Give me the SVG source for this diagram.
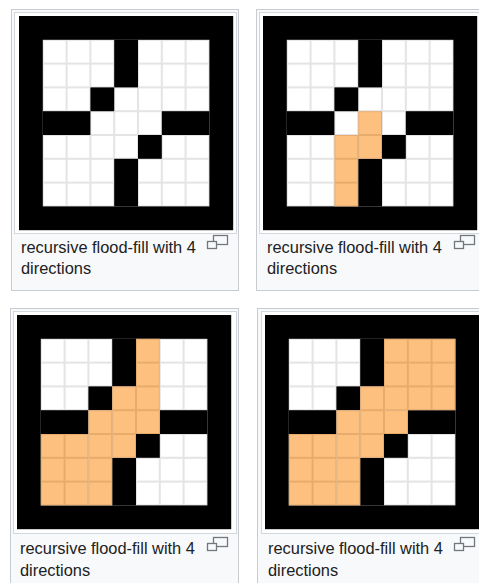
<svg xmlns="http://www.w3.org/2000/svg" width="479" height="583" viewBox="0 0 479 583">
<defs>
<style>
.frame{fill:#f8f9fa;stroke:#c8ccd1;stroke-width:1}
.box{fill:#fff;stroke:#d4d7db;stroke-width:1}
.cap{font-family:"Liberation Sans",Arial,sans-serif;font-size:16.4px;fill:#202122}
.icon{fill:#f8f9fa;stroke:#72777d;stroke-width:1.3}
.blk{fill:#000}
.or{fill:url(#go)}
</style>
<pattern id="gw" width="23.8" height="23.8" patternUnits="userSpaceOnUse"><rect width="23.8" height="23.8" fill="#e4e4e4"/><rect x="1" y="1" width="21.8" height="21.8" fill="#fff"/></pattern>
<pattern id="go" width="23.8" height="23.8" patternUnits="userSpaceOnUse"><rect width="23.8" height="23.8" fill="#e7ab6c"/><rect x="1" y="1" width="21.8" height="21.8" fill="#fec07f"/></pattern>
<g id="base">
<rect class="blk" width="214.2" height="214.2"/>
<rect x="23.8" y="23.8" width="166.6" height="166.6" fill="url(#gw)"/>
<rect class="blk" x="95.2" y="23.8" width="23.8" height="47.6"/>
<rect class="blk" x="71.4" y="71.4" width="23.8" height="23.8"/>
<rect class="blk" x="23.8" y="95.2" width="47.6" height="23.8"/>
<rect class="blk" x="142.8" y="95.2" width="47.6" height="23.8"/>
<rect class="blk" x="119" y="119" width="23.8" height="23.8"/>
<rect class="blk" x="95.2" y="142.8" width="23.8" height="47.6"/>
</g>
<g id="icon">
<rect class="icon" x="6.5" y="0.5" width="14" height="9"/>
<rect class="icon" x="0.5" y="6.5" width="9" height="7"/>
</g>
</defs>

<g id="panel1">
<rect class="frame" x="11.5" y="9.5" width="227" height="281"/>
<rect class="box" x="14.5" y="12.5" width="222" height="221"/>
<use href="#base" transform="translate(19,16)"/>
<text class="cap" x="21" y="253">recursive flood-fill with 4</text>
<text class="cap" x="21" y="274">directions</text>
<use href="#icon" transform="translate(207,235)"/>
</g>

<g id="panel2">
<rect class="frame" x="256.5" y="9.5" width="240" height="281"/>
<rect class="box" x="259.5" y="12.5" width="240" height="221"/>
<g transform="translate(263,16)">
<use href="#base"/>
<rect class="or" x="95.2" y="95.2" width="23.8" height="47.6"/>
<rect class="or" x="71.4" y="119" width="23.8" height="71.4"/>
</g>
<text class="cap" x="267" y="253">recursive flood-fill with 4</text>
<text class="cap" x="267" y="274">directions</text>
<use href="#icon" transform="translate(454,235)"/>
</g>

<g id="panel3">
<rect class="frame" x="10.5" y="308.5" width="228" height="290"/>
<rect class="box" x="13.5" y="311.5" width="223" height="222"/>
<g transform="translate(17,315)">
<use href="#base"/>
<rect class="or" x="119" y="23.8" width="23.8" height="95.2"/>
<rect class="or" x="95.2" y="71.4" width="23.8" height="71.4"/>
<rect class="or" x="71.4" y="95.2" width="23.8" height="95.2"/>
<rect class="or" x="23.8" y="119" width="47.6" height="71.4"/>
</g>
<text class="cap" x="20" y="554">recursive flood-fill with 4</text>
<text class="cap" x="20" y="576">directions</text>
<use href="#icon" transform="translate(207,537)"/>
</g>

<g id="panel4">
<rect class="frame" x="257.5" y="308.5" width="240" height="290"/>
<rect class="box" x="261.5" y="311.5" width="240" height="222"/>
<g transform="translate(265,315)">
<use href="#base"/>
<rect class="or" x="119" y="23.8" width="71.4" height="71.4"/>
<rect class="or" x="119" y="95.2" width="23.8" height="23.8"/>
<rect class="or" x="95.2" y="71.4" width="23.8" height="71.4"/>
<rect class="or" x="71.4" y="95.2" width="23.8" height="95.2"/>
<rect class="or" x="23.8" y="119" width="47.6" height="71.4"/>
</g>
<text class="cap" x="268" y="554">recursive flood-fill with 4</text>
<text class="cap" x="268" y="576">directions</text>
<use href="#icon" transform="translate(454,537)"/>
</g>
</svg>
